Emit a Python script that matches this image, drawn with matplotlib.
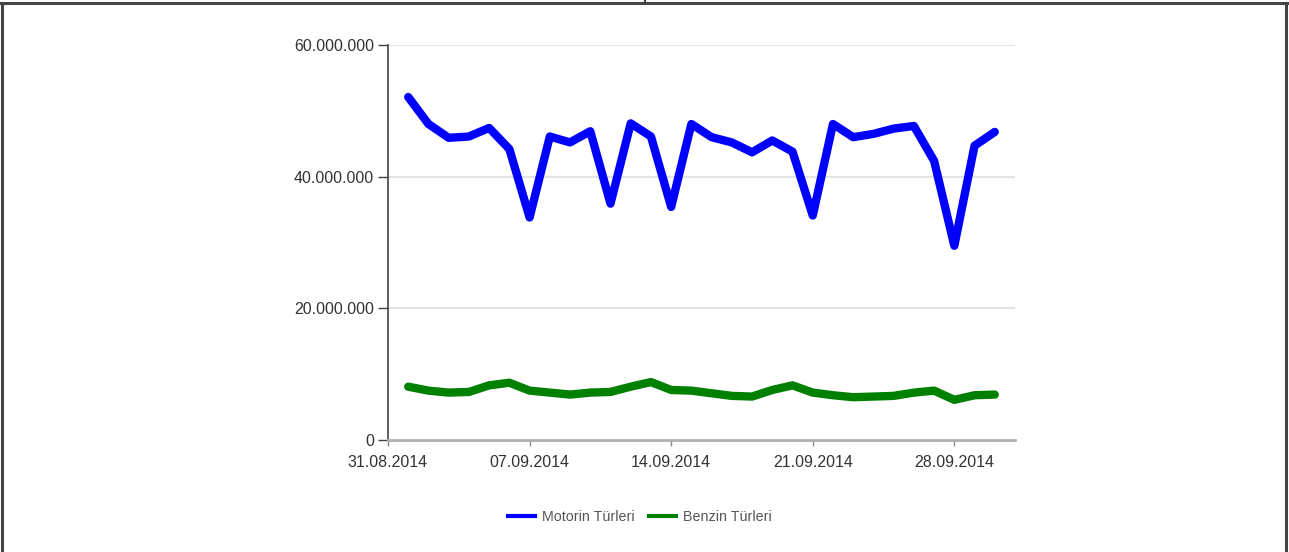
import matplotlib
matplotlib.use("Agg")
import matplotlib.pyplot as plt
import matplotlib.dates as mdates
from matplotlib.ticker import FuncFormatter
from matplotlib.lines import Line2D
import pandas as pd

plt.rcParams['font.family'] = ['Liberation Sans', 'DejaVu Sans']

dates = pd.date_range("2014-09-01", "2014-09-30", freq="D")
motorin = [52.1, 48.0, 45.9, 46.1, 47.4, 44.2, 33.8, 46.1, 45.2, 46.9,
           35.9, 48.1, 46.1, 35.4, 48.0, 46.0, 45.2, 43.7, 45.5, 43.8,
           34.1, 48.0, 46.0, 46.5, 47.3, 47.7, 42.4, 29.5, 44.7, 46.8]
benzin = [8.1, 7.5, 7.2, 7.3, 8.3, 8.7, 7.5, 7.2, 6.9, 7.2,
          7.3, 8.1, 8.8, 7.6, 7.5, 7.1, 6.7, 6.6, 7.6, 8.3,
          7.2, 6.8, 6.5, 6.6, 6.7, 7.2, 7.5, 6.1, 6.8, 6.9]
motorin = [v * 1e6 for v in motorin]
benzin = [v * 1e6 for v in benzin]
series_names = ["Motorin Türleri", "Benzin Türleri"]
series_colors = ["#0000ff", "#008000"]
tick_dates = pd.to_datetime(["2014-08-31", "2014-09-07", "2014-09-14", "2014-09-21", "2014-09-28"])
y_ticks = [0, 20e6, 40e6, 60e6]

W, H = 1289, 552
fig = plt.figure(figsize=(W / 100, H / 100), dpi=100)
ax = fig.add_axes([388 / W, 1 - 440 / H, (1015 - 388) / W, (440 - 45) / H])

ax.plot(dates, motorin, color=series_colors[0], lw=6.0, solid_joinstyle='round', solid_capstyle='round', zorder=3)
ax.plot(dates, benzin, color=series_colors[1], lw=6.0, solid_joinstyle='round', solid_capstyle='round', zorder=3)

ax.set_xlim(pd.Timestamp("2014-08-31"), pd.Timestamp("2014-10-01"))
ax.set_ylim(0, 60e6)
ax.set_yticks(y_ticks)
ax.yaxis.set_major_formatter(FuncFormatter(lambda v, p: f"{int(v):,}".replace(",", ".")))
ax.set_xticks(tick_dates)
ax.xaxis.set_major_formatter(mdates.DateFormatter("%d.%m.%Y"))

for y in y_ticks[1:]:
    ax.axhline(y, color="#e4e4e4", lw=1.5, zorder=1)

for s in ["top", "right"]:
    ax.spines[s].set_visible(False)
ax.spines["left"].set_color("#444444")
ax.spines["left"].set_linewidth(1.2)
ax.spines["bottom"].set_color("#b0b0b0")
ax.spines["bottom"].set_linewidth(2)

ax.tick_params(axis="y", length=7, width=1, color="#444444", pad=3, labelsize=11.5, labelcolor="#333333")
ax.tick_params(axis="x", length=4, width=1, color="#888888", pad=7, labelsize=11.5, labelcolor="#333333")

handles = [Line2D([], [], color=c, lw=3) for c in series_colors]
fig.legend(handles, series_names, loc="center", bbox_to_anchor=(640 / W, 1 - 517 / H),
           ncol=2, frameon=False, fontsize=10.3, handlelength=1.9, handletextpad=0.5,
           columnspacing=1.0, labelcolor="#555555")

# outer frame of the cell
fig.add_artist(Line2D([1.5 / W, 1.5 / W], [0, 1 - 3 / H], transform=fig.transFigure, color="#444444", lw=2.2))
fig.add_artist(Line2D([1285.5 / W, 1285.5 / W], [0, 1 - 3 / H], transform=fig.transFigure, color="#444444", lw=2.2))
fig.add_artist(Line2D([0, 1], [1 - 3 / H, 1 - 3 / H], transform=fig.transFigure, color="#444444", lw=2.2))
fig.add_artist(Line2D([645 / W, 645 / W], [1 - 3 / H, 1], transform=fig.transFigure, color="#444444", lw=1.5))

fig.savefig("out.png", dpi=100)
